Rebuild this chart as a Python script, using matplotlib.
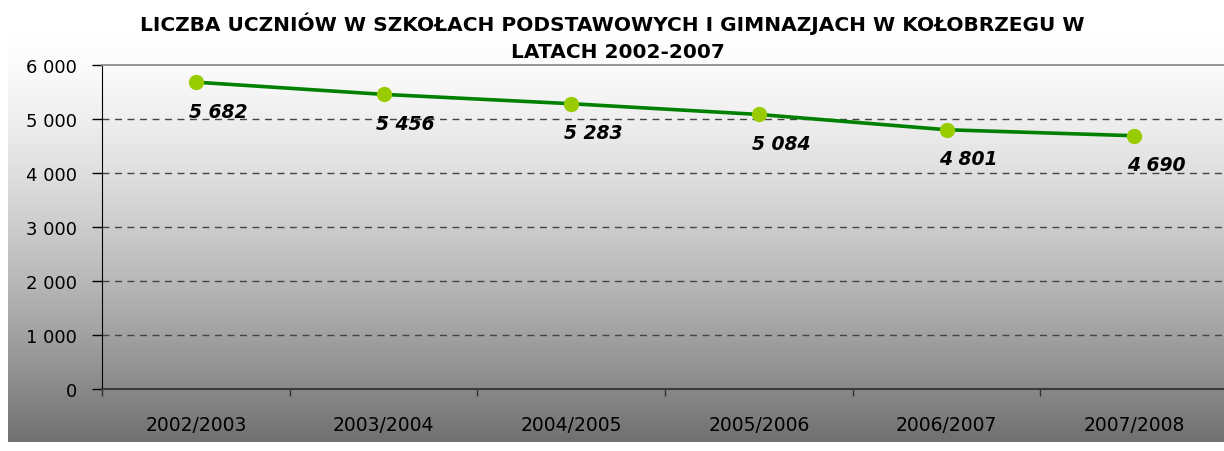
import matplotlib.pyplot as plt
import numpy as np

# dane
lata = ["2002/2003", "2003/2004", "2004/2005", "2005/2006", "2006/2007", "2007/2008"]
uczniowie = [5682, 5456, 5283, 5084, 4801, 4690]
yticks = [0, 1000, 2000, 3000, 4000, 5000, 6000]

W, H = 1224, 452
fig = plt.figure(figsize=(W / 100, H / 100), dpi=100)
fig.patch.set_facecolor("white")

# tlo z gradientem (jasne u gory, ciemniejsze na dole)
bg = fig.add_axes([8 / W, (H - 443) / H, (W - 8) / W, 411 / H])
t = np.linspace(0, 1, 256)
grad = (1.0 - 0.56 * t ** 1.4).reshape(-1, 1)
bg.imshow(np.dstack([grad, grad, grad]), aspect="auto", extent=[0, 1, 0, 1])
bg.set_axis_off()

ax = fig.add_axes([102 / W, (H - 390) / H, 1126 / W, 324 / H])
ax.patch.set_alpha(0)

x = np.arange(len(lata))
ax.plot(x, uczniowie, color="#008000", lw=2.6, marker="o", ms=10,
        mfc="#99cc00", mec="#99cc00", zorder=3, clip_on=False)

for xi, v in zip(x, uczniowie):
    lab = f"{v:,}".replace(",", " ")
    ax.annotate(lab, (xi, v), xytext=(16, -21), textcoords="offset points",
                ha="center", va="center", fontsize=13.5, fontweight="bold",
                fontstyle="italic", color="black", zorder=4)

ax.set_xlim(-0.5, len(lata) - 0.5)
ax.set_ylim(0, 6000)
ax.set_yticks(yticks)
ax.set_yticklabels([f"{t:,}".replace(",", " ") for t in yticks], fontsize=13)
ax.set_xticks(x)
ax.set_xticklabels(lata, fontsize=13.5)
ax.set_xticks(np.arange(-0.5, len(lata), 1), minor=True)
ax.tick_params(axis="x", which="major", length=0, pad=19)
ax.tick_params(axis="x", which="minor", length=5, width=1, color="#333333")
ax.tick_params(axis="y", length=7, width=1, pad=11, color="black")

for g in yticks[1:-1]:
    ax.axhline(g, color="#444444", lw=1, ls=(0, (5, 4)), zorder=1)

ax.spines["right"].set_visible(False)
ax.spines["top"].set_color("#8c8c8c")
ax.spines["top"].set_linewidth(1.3)
ax.spines["left"].set_color("black")
ax.spines["bottom"].set_color("#3a3a3a")
ax.spines["bottom"].set_linewidth(1.5)

fig.text(0.5, 1 - 24 / H, "LICZBA UCZNIÓW W SZKOŁACH PODSTAWOWYCH I GIMNAZJACH W KOŁOBRZEGU W",
         ha="center", va="center", fontsize=14.5, fontweight="bold")
fig.text(0.505, 1 - 52 / H, "LATACH 2002-2007",
         ha="center", va="center", fontsize=14.5, fontweight="bold")

fig.savefig("out.png", dpi=100)
